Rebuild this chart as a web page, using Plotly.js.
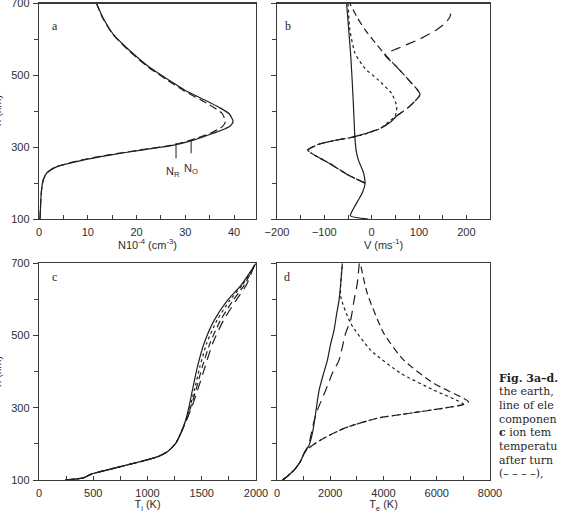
<!DOCTYPE html>
<html>
<head>
<meta charset="utf-8">
<script src="https://cdn.plot.ly/plotly-3.0.1.min.js"></script>
<style>
  html, body { margin: 0; padding: 0; background: #fff; }
  #chart { width: 572px; height: 518px; }
</style>
</head>
<body>
<div id="chart"></div>
<script>
// ---- a: electron density N (10^4 cm^-3) versus height h (km)
const hA = [100, 130, 160, 190, 210, 228, 245, 264, 278, 292, 305, 319, 338, 357, 371, 393, 411, 430, 458, 486, 523, 569, 615, 661, 700];
const densR = [0.2, 0.3, 0.4, 0.6, 0.9, 1.6, 3.6, 9.0, 14.5, 21.0, 27.4, 31.5, 35.6, 39.0, 39.8, 39.0, 36.9, 34.2, 30.0, 26.7, 22.6, 18.6, 15.2, 13.1, 11.8];
const densO = [0.2, 0.3, 0.4, 0.6, 0.9, 1.6, 3.4, 8.6, 14.0, 20.6, 27.0, 31.0, 35.0, 37.6, 38.2, 37.6, 35.8, 33.4, 29.6, 26.4, 22.4, 18.4, 15.1, 13.0, 11.8];

// ---- b: velocity V (m/s) versus height
const hB0 = [100, 109, 130, 153, 175, 199, 228, 264, 292, 319, 340, 430, 550, 700];
const vel0 = [-7, -45, -38, -28, -19, -14, -17, -28, -33, -35, -36, -39, -44, -53];
const hBS = [200, 222, 254, 282, 292, 308, 319, 328, 339, 352, 370, 388, 413, 450, 487, 519, 561, 627, 700];
const velS = [-14, -49, -88, -126, -135, -112, -77, -38, -8, 18, 36, 50, 53, 42, 14, -14, -35, -46, -50];
const hBM = [200, 222, 254, 282, 292, 308, 319, 328, 339, 352, 370, 387, 410, 447, 489, 530, 558, 590, 627, 660, 700];
const velM = [-14, -49, -88, -126, -135, -112, -77, -40, -10, 18, 40, 53, 77, 102, 77, 48, 28, 8, -14, -30, -46];
const hBL = [200, 222, 254, 282, 292, 308, 319, 328, 339, 352, 370, 387, 410, 447, 489, 530, 558, 575, 600, 625, 645, 662, 672];
const velL = [-14, -49, -88, -126, -135, -112, -77, -40, -10, 18, 40, 53, 77, 102, 77, 48, 28, 55, 100, 135, 155, 165, 167];

// ---- c: ion temperature Ti (K) versus height
const hC0 = [100, 106, 117, 123, 137, 151, 164, 178, 201, 229, 266, 303, 349, 413, 478, 542, 598, 639, 700];
const ti0 = [241, 410, 488, 565, 750, 935, 1090, 1182, 1259, 1306, 1352, 1383, 1414, 1460, 1521, 1614, 1738, 1861, 2000];
const hC1 = [100, 106, 117, 123, 137, 151, 164, 178, 201, 229, 266, 303, 349, 413, 478, 542, 598, 639, 700];
const tiS = [241, 410, 488, 565, 750, 935, 1090, 1182, 1259, 1306, 1355, 1392, 1432, 1482, 1545, 1640, 1760, 1872, 2000];
const tiM = [241, 410, 488, 565, 750, 935, 1090, 1182, 1259, 1306, 1358, 1400, 1446, 1505, 1575, 1672, 1790, 1890, 1995];
const tiL = [241, 410, 488, 565, 750, 935, 1090, 1182, 1259, 1306, 1360, 1410, 1462, 1530, 1600, 1700, 1818, 1910, 1990];

// ---- d: electron temperature Te (K) versus height
const hD0 = [100, 112, 128, 150, 174, 197, 230, 257, 300, 349, 390, 432, 475, 515, 560, 598, 650, 700];
const te0 = [213, 420, 648, 870, 1020, 1208, 1330, 1395, 1480, 1582, 1730, 1894, 2010, 2143, 2240, 2330, 2400, 2455];
const hDL = [100, 112, 128, 150, 174, 200, 230, 260, 294, 349, 396, 432, 507, 543, 600, 645, 700];
const teL = [213, 420, 648, 870, 1020, 1200, 1290, 1380, 1520, 1832, 2082, 2330, 2580, 2766, 2900, 3016, 3090];
const hDS = [100, 112, 128, 150, 174, 183, 211, 243, 271, 285, 299, 310, 349, 396, 460, 534, 608, 650, 700];
const teS = [213, 420, 648, 870, 1020, 1100, 1645, 2517, 3763, 5010, 6255, 7000, 5880, 4636, 3514, 2766, 2393, 2400, 2455];
const hDM = [100, 112, 128, 150, 174, 183, 211, 243, 271, 285, 299, 310, 317, 368, 432, 506, 617, 700];
const teM = [213, 420, 648, 870, 1020, 1100, 1645, 2517, 3763, 5010, 6255, 7050, 7190, 5880, 4760, 4012, 3390, 3130];

// tick labels
const hTicks = [100, 300, 500, 700];

// ---- styling helpers
const W = 572, H = 518;
const px = x => x / W;
const py = y => 1 - y / H;
const INK = '#1f1f1f';
const DASH = { solid: 'solid', short: '3px,3px', medium: '7px,4px', long: '10px,6px', nDash: '8px,4px' };

function line(x, y, ax, dash) {
  return {
    type: 'scatter', mode: 'lines', x: x, y: y,
    xaxis: 'x' + ax, yaxis: 'y' + ax,
    line: { color: INK, width: 1.2, dash: dash, shape: 'spline', smoothing: 0.6 },
    hoverinfo: 'skip'
  };
}

const traces = [
  line(densR, hA, '', DASH.solid),
  line(densO, hA, '', DASH.nDash),

  line(vel0, hB0, '2', DASH.solid),
  line(velS, hBS, '2', DASH.short),
  line(velM, hBM, '2', DASH.medium),
  line(velL, hBL, '2', DASH.long),

  line(ti0, hC0, '3', DASH.solid),
  line(tiS, hC1, '3', DASH.short),
  line(tiM, hC1, '3', DASH.medium),
  line(tiL, hC1, '3', DASH.long),

  line(te0, hD0, '4', DASH.solid),
  line(teL, hDL, '4', DASH.long),
  line(teS, hDS, '4', DASH.short),
  line(teM, hDM, '4', DASH.medium)
];

const tickFont = { family: 'Liberation Sans, Arial, sans-serif', size: 11, color: '#2e2e2e' };

function xAxis(domain, anchor, range, dtick, minor, title) {
  return {
    domain: domain, anchor: anchor, range: range,
    tick0: 0, dtick: dtick,
    showline: true, mirror: true, linecolor: '#3a3a3a', linewidth: 1.3,
    showgrid: false, zeroline: false,
    ticks: 'inside', ticklen: 4, tickcolor: '#3a3a3a', tickwidth: 1,
    minor: { dtick: minor, ticks: 'inside', ticklen: 4, tickcolor: '#3a3a3a', showgrid: false },
    tickfont: tickFont, ticklabelstandoff: 2, ticklabeloverflow: 'allow',
    title: { text: title, font: tickFont, standoff: 1 }
  };
}

function yAxis(domain, anchor, labels) {
  return {
    domain: domain, anchor: anchor, range: [100, 700],
    tickvals: hTicks, ticktext: hTicks.map(String), showticklabels: labels,
    showline: true, mirror: true, linecolor: '#3a3a3a', linewidth: 1.3,
    showgrid: false, zeroline: false,
    ticks: 'outside', ticklen: 5, tickcolor: '#3a3a3a', tickwidth: 1,
    minor: { tick0: 100, dtick: 100, ticks: 'outside', ticklen: 4, tickcolor: '#3a3a3a', showgrid: false },
    tickfont: tickFont, ticklabelstandoff: 1, ticklabeloverflow: 'allow'
  };
}

const xLeft = [px(39), px(256)];
const xRight = [px(277), px(490)];
const yTop = [py(219), py(3.5)];
const yBot = [py(480), py(263.3)];

const serif = { family: 'Liberation Serif, Times New Roman, serif', size: 12, color: '#1f1f1f' };
const captionFont = { family: 'DejaVu Serif, serif', size: 11, color: '#1f1f1f' };

const annotations = [
  // panel letters
  { text: 'a', x: px(50), y: py(17), xref: 'paper', yref: 'paper', showarrow: false, font: serif },
  { text: 'b', x: px(288), y: py(17), xref: 'paper', yref: 'paper', showarrow: false, font: serif },
  { text: 'c', x: px(50), y: py(277), xref: 'paper', yref: 'paper', showarrow: false, font: serif },
  { text: 'd', x: px(287), y: py(277), xref: 'paper', yref: 'paper', showarrow: false, font: serif },
  // height axis titles, running off the left edge
  { text: 'h (km)', textangle: -90, x: px(-3), y: py(111), xref: 'paper', yref: 'paper',
    xanchor: 'center', yanchor: 'middle', showarrow: false, font: tickFont },
  { text: 'h (km)', textangle: -90, x: px(-3), y: py(372), xref: 'paper', yref: 'paper',
    xanchor: 'center', yanchor: 'middle', showarrow: false, font: tickFont },
  // curve labels in panel a
  { text: 'N<sub>R</sub>', x: 27.4, y: 232, xref: 'x', yref: 'y', showarrow: false, font: tickFont },
  { text: 'N<sub>O</sub>', x: 31.2, y: 240, xref: 'x', yref: 'y', showarrow: false, font: tickFont }
];

// caption lines at the right margin
const captionLines = [
  '<b>Fig. 3a–d.</b>',
  'the earth,',
  'line of ele',
  'componen',
  '<b>c</b> ion tem',
  'temperatu',
  'after turn',
  '(– – – –),'
];
captionLines.forEach((t, i) => {
  annotations.push({
    text: t, x: px(497), y: py(378 + i * 13.7), xref: 'paper', yref: 'paper',
    xanchor: 'left', yanchor: 'middle', showarrow: false, font: captionFont
  });
});

const shapes = [
  { type: 'line', xref: 'x', yref: 'y', x0: 28.1, x1: 28.1, y0: 311, y1: 269, line: { color: INK, width: 1 } },
  { type: 'line', xref: 'x', yref: 'y', x0: 31.2, x1: 31.2, y0: 319, y1: 283, line: { color: INK, width: 1 } }
];

const layout = {
  width: W, height: H,
  margin: { l: 0, r: 0, t: 0, b: 0 },
  paper_bgcolor: '#fff', plot_bgcolor: '#fff',
  showlegend: false,
  xaxis: xAxis(xLeft, 'y', [0, 44.5], 10, 5, 'N10<sup>-4</sup> (cm<sup>-3</sup>)'),
  yaxis: yAxis(yTop, 'x', true),
  xaxis2: xAxis(xRight, 'y2', [-200, 250], 100, 50, 'V (ms<sup>-1</sup>)'),
  yaxis2: yAxis(yTop, 'x2', false),
  xaxis3: xAxis(xLeft, 'y3', [0, 2000], 500, 250, 'T<sub>i</sub> (K)'),
  yaxis3: yAxis(yBot, 'x3', true),
  xaxis4: xAxis(xRight, 'y4', [0, 8000], 2000, 1000, 'T<sub>e</sub> (K)'),
  yaxis4: yAxis(yBot, 'x4', false),
  annotations: annotations,
  shapes: shapes
};

layout.xaxis2.tick0 = -200;
layout.xaxis2.minor.tick0 = -200;

Plotly.newPlot('chart', traces, layout, { staticPlot: true, displayModeBar: false });
</script>
</body>
</html>
